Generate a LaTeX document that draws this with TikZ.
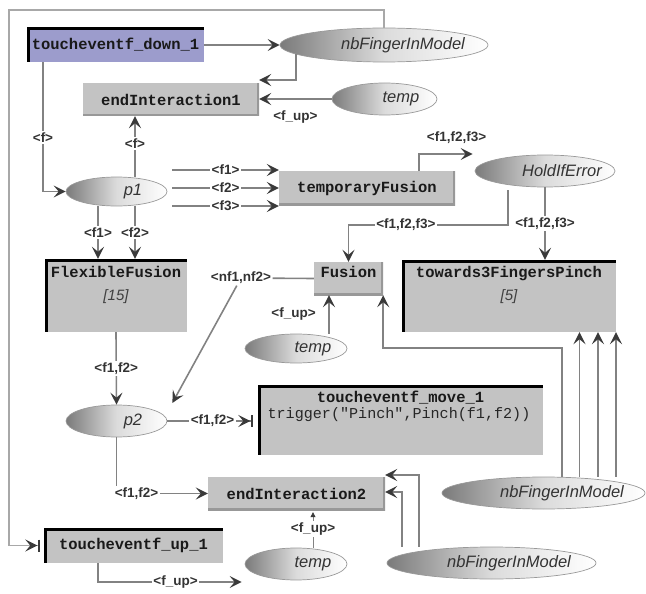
\documentclass[tikz,border=0pt]{standalone}
\usepackage{fontspec}
\setmainfont{Liberation Sans}
\newfontfamily\monofont{Liberation Mono}
\usetikzlibrary{arrows.meta,calc,shapes.geometric}

\definecolor{boxgray}{HTML}{C3C3C3}
\definecolor{boxedge}{HTML}{989898}
\definecolor{linegray}{HTML}{828282}
\definecolor{tipgray}{HTML}{3A3A3A}
\definecolor{purplebox}{HTML}{9C9CCC}
\definecolor{framegray}{HTML}{A8A8A8}

\tikzset{
  chev/.tip={Stealth[length=12pt,width=12pt,inset=5pt,color=tipgray]},
  conn/.style={draw=linegray, line width=1.6pt, -{chev}},
  barconn/.style={draw=linegray, line width=1.6pt, shorten >=5pt,
    -{chev[sep=0.5pt] Bar[width=12pt,line width=2pt,color=tipgray]}},
  framel/.style={draw=framegray, line width=1.2pt, shorten >=4pt,
    -{chev[sep=0.5pt] Bar[width=12pt,line width=2pt,color=tipgray]}},
  plainline/.style={draw=linegray, line width=1.6pt},
  thinconn/.style={draw=linegray, line width=0.8pt, shorten >=2pt,
    -{Triangle[length=5pt,width=5pt,color=tipgray]}},
  lbl/.style={font=\bfseries\fontsize{13.5}{13.5}\selectfont, text=black!80,
    fill=white, inner sep=1.5pt},
  boxtext/.style={font=\monofont\bfseries\fontsize{15.5}{16}\selectfont, text=black!90},
  plainbox/.style={rectangle, fill=boxgray, inner sep=0pt, boxtext,
    path picture={\draw[boxedge, line width=4pt]
      (path picture bounding box.north east) -- (path picture bounding box.south east)
      -- (path picture bounding box.south west);}},
  framebox/.style={rectangle, fill=boxgray, inner sep=0pt, boxtext,
    path picture={\draw[black, line width=5pt]
      (path picture bounding box.south west) -- (path picture bounding box.north west)
      -- (path picture bounding box.north east);}},
  subtext/.style={font=\itshape\fontsize{15}{15}\selectfont, text=black!75, inner sep=0pt},
  trigtext/.style={font=\monofont\fontsize{15.1}{16}\selectfont, text=black!85, inner sep=0pt},
  ell/.style={ellipse, draw=black!40, line width=0.7pt, inner sep=0pt,
    left color=black!52, right color=white, middle color=black!14},
  elltext/.style={font=\itshape\fontsize{16.5}{16.5}\selectfont, text=black!80, inner sep=0pt}
}

\begin{document}
\begin{tikzpicture}[x=1pt,y=-1pt]
\useasboundingbox (0,0) rectangle (646,594);

% ---------- transitions (boxes) ----------
\node[framebox, fill=purplebox, minimum width=177pt, minimum height=34pt] (td) at (115.5,45) {toucheventf\_down\_1};
\node[plainbox, minimum width=176pt, minimum height=33pt] (ei1) at (171,99.5) {endInteraction1};
\node[plainbox, minimum width=176pt, minimum height=34pt] (tf) at (367,188) {temporaryFusion};
\node[plainbox, minimum width=69pt, text height=15.5pt, text depth=17.5pt] (fus) at (348.5,278.5) {Fusion};
\node[framebox, minimum width=214pt, text height=17.5pt, text depth=54.5pt] (t3) at (509,296) {towards3FingersPinch};
\node[subtext] (t3n) at (509,297) {[5]};
\node[framebox, minimum width=142pt, text height=18.5pt, text depth=54.5pt] (ff) at (116,295.5) {FlexibleFusion};
\node[subtext] (ffn) at (116,297) {[15]};
\node[framebox, minimum width=285pt, text height=17.5pt, text depth=52.5pt] (mv) at (400.5,420) {toucheventf\_move\_1};
\node[trigtext] (mvt) at (399,415) {trigger("Pinch",Pinch(f1,f2))};
\node[plainbox, minimum width=177pt, minimum height=33pt] (ei2) at (296.5,493.5) {endInteraction2};
\node[framebox, minimum width=179pt, minimum height=35pt] (tu) at (133.5,545.5) {toucheventf\_up\_1};

% ---------- places (ellipses) ----------
\node[ell, minimum width=208pt, minimum height=34pt] (nbf1) at (384,45) {};
\node[elltext] (nbf1t) at (403,45) {nbFingerInModel};
\node[ell, minimum width=105pt, minimum height=32pt] (temp1) at (384.5,99) {};
\node[elltext] (temp1t) at (401,99) {temp};
\node[ell, minimum width=101pt, minimum height=29pt] (p1) at (116.5,191.5) {};
\node[elltext] (p1t) at (133,191.5) {p1};
\node[ell, minimum width=140pt, minimum height=32pt] (hold) at (545,171) {};
\node[elltext] (holdt) at (562,171) {HoldIfError};
\node[ell, minimum width=102pt, minimum height=29pt] (temp2) at (296,348.5) {};
\node[elltext] (temp2t) at (313,348.5) {temp};
\node[ell, minimum width=101pt, minimum height=32pt] (p2) at (116.5,421) {};
\node[elltext] (p2t) at (133,421) {p2};
\node[ell, minimum width=203pt, minimum height=32pt] (nbf2) at (543.5,493) {};
\node[elltext] (nbf2t) at (562,493) {nbFingerInModel};
\node[ell, minimum width=209pt, minimum height=32pt] (nbf3) at (491.5,563) {};
\node[elltext] (nbf3t) at (509,563) {nbFingerInModel};
\node[ell, minimum width=102pt, minimum height=32pt] (temp3) at (296,564) {};
\node[elltext] (temp3t) at (313,564) {temp};

% ---------- arcs ----------
\coordinate (fr) at (9,10);
\draw[framel] (nbf1.north) |- (fr) |- (tu.west);

\draw[conn] (td.east) -- (nbf1.west);
\draw[conn] (nbf1.186) |- ($(ei1.east)+(0,-19.5)$);
\draw[conn] (temp1.west) -- node[lbl, below=9pt]{<f\_up>} (temp1.west -| ei1.east);

\draw[conn] ($(td.south)+(-72.5,0)$) |- node[lbl, pos=0.29]{<f>} (p1.west);
\draw[conn] ($(p1.north)+(18.5,0)$) -- node[lbl, pos=0.55]{<f>} ($(ei1.south)+(-36,0)$);

\draw[conn] ($(p1.east |- tf.west)+(5,-18)$) -- node[lbl]{<f1>} ($(tf.west)+(0,-18)$);
\draw[conn] ($(p1.east |- tf.west)+(5,0)$) -- node[lbl]{<f2>} (tf.west);
\draw[conn] ($(p1.east |- tf.west)+(5,18)$) -- node[lbl]{<f3>} ($(tf.west)+(0,18)$);

\draw[conn] ($(tf.north)+(52,0)$) |- node[lbl, pos=0.85, above=8pt]{<f1,f2,f3>} ($(hold.west)+(-2,-17)$);
\draw[conn] ($(hold.south)+(-37,3)$) |- node[lbl, pos=0.82]{<f1,f2,f3>} ($(fus.north)+(0,-37)$) -- (fus.north);
\draw[conn] (hold.south) -- node[lbl]{<f1,f2,f3>} ($(t3.north)+(36,0)$);

\draw[conn] ($(p1.south)+(-18.5,0)$) -- node[lbl]{<f1>} ($(ff.north)+(-18,0)$);
\draw[conn] ($(p1.south)+(18.5,0)$) -- node[lbl]{<f2>} ($(ff.north)+(19,0)$);

\node[lbl] (nf) at (241,278) {<nf1,nf2>};
\draw[plainline] (fus.west) -- (nf);
\draw[conn] (nf) -- ($(p2.east)+(5,-18)$);

\draw[conn] ($(temp2.north)+(33,0)$) -- node[lbl, left=11pt]{<f\_up>} ($(fus.south)+(-19.5,0)$);
\draw[conn] ($(nbf2.north)+(18.5,0)$) |- ($(fus.south east)+(0,53)$) -- (fus.south east);
\draw[conn] ($(nbf2.north)+(36,0)$) -- ($(t3.south)+(70.5,0)$);
\draw[conn] ($(nbf2.north)+(54.5,0)$) -- ($(t3.south)+(89,0)$);
\draw[conn] ($(nbf2.north)+(72.5,0)$) -- ($(t3.south)+(107,0)$);

\draw[conn] (ff.south) -- node[lbl]{<f1,f2>} (p2.north);
\draw[barconn] (p2.east) -- node[lbl]{<f1,f2>} (mv.west |- p2.east);
\draw[conn] (p2.south) |- node[lbl, pos=0.61]{<f1,f2>} (ei2.west);

\draw[conn] ($(nbf3.north)+(-72.5,0)$) |- ($(ei2.east)+(0,-18.5)$);
\draw[conn] ($(nbf3.north)+(-89.5,0)$) |- ($(ei2.east)+(0,-1.5)$);

\draw[conn] ($(tu.south)+(-35.5,0)$) |- node[lbl, pos=0.77]{<f\_up>} ($(temp3.west)+(-3,18)$);
\draw[thinconn] ($(temp3.north)+(17,0)$) -- node[lbl]{<f\_up>} ($(ei2.south)+(16.5,0)$);
\end{tikzpicture}
\end{document}
